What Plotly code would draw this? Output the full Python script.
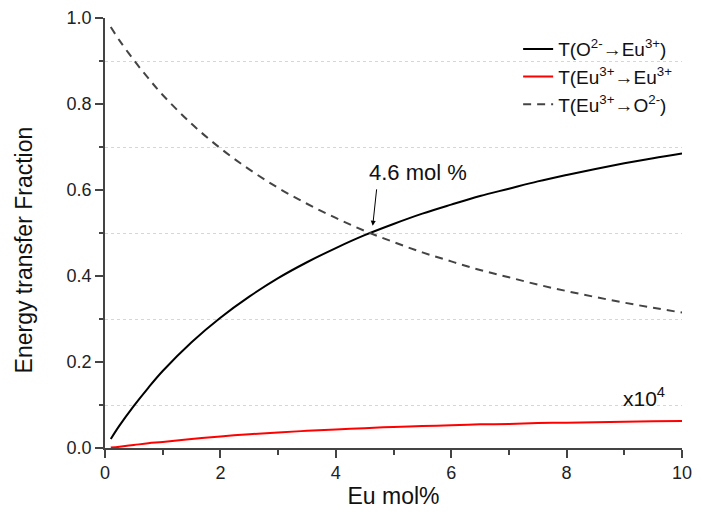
import plotly.graph_objects as go

eu_mol = [0.1, 0.25, 0.5, 0.75, 1, 1.5, 2, 2.5, 3, 3.5, 4, 4.5, 5, 5.5, 6, 6.5, 7, 7.5, 8, 8.5, 9, 9.5, 10]
t_o_eu = [0.021, 0.052, 0.098, 0.140, 0.179, 0.246, 0.303, 0.352, 0.395, 0.432, 0.465, 0.495, 0.521,
          0.545, 0.566, 0.586, 0.603, 0.620, 0.635, 0.649, 0.662, 0.674, 0.685]
t_eu_eu = [0.001, 0.003, 0.007, 0.011, 0.014, 0.021, 0.027, 0.032, 0.036, 0.040, 0.043, 0.046, 0.049,
           0.051, 0.053, 0.055, 0.056, 0.058, 0.059, 0.060, 0.061, 0.062, 0.063]
t_eu_o = [0.979, 0.948, 0.902, 0.860, 0.821, 0.754, 0.697, 0.648, 0.605, 0.568, 0.535, 0.505, 0.479,
          0.455, 0.434, 0.414, 0.397, 0.380, 0.365, 0.351, 0.338, 0.326, 0.315]

names = ["T(O<sup>2-</sup>→Eu<sup>3+</sup>)", "T(Eu<sup>3+</sup>→Eu<sup>3+</sup>", "T(Eu<sup>3+</sup>→O<sup>2-</sup>)"]

FONT = "Liberation Sans, Arial, sans-serif"

fig = go.Figure()
fig.add_trace(go.Scatter(x=eu_mol, y=t_o_eu, mode="lines", name=names[0],
                         line=dict(color="#000000", width=2, shape="spline")))
fig.add_trace(go.Scatter(x=eu_mol, y=t_eu_eu, mode="lines", name=names[1],
                         line=dict(color="#ff0000", width=2, shape="spline")))
fig.add_trace(go.Scatter(x=eu_mol, y=t_eu_o, mode="lines", name=names[2],
                         line=dict(color="#444444", width=2, dash="8px,6px", shape="spline")))

fig.add_annotation(x=4.64, y=0.517, ax=4.71, ay=0.605, axref="x", ayref="y", xref="x", yref="y",
                   text="", showarrow=True, arrowhead=2, arrowsize=1, arrowwidth=1, arrowcolor="#000000")
fig.add_annotation(x=5.43, y=0.64, xref="x", yref="y", text="4.6 mol %", showarrow=False,
                   font=dict(size=22, color="#111111", family=FONT))
fig.add_annotation(x=9.34, y=0.118, xref="x", yref="y", text="x10<sup>4</sup>", showarrow=False,
                   font=dict(size=21, color="#111111", family=FONT))
fig.add_annotation(x=-0.140, y=0.46, xref="paper", yref="paper", text="Energy transfer Fraction",
                   textangle=-90, showarrow=False, xanchor="center", yanchor="middle",
                   font=dict(size=23, color="#111111", family=FONT))

fig.update_layout(
    width=685, height=501,
    margin=dict(l=97, r=11, t=10, b=61),
    paper_bgcolor="white", plot_bgcolor="white",
    font=dict(family=FONT, size=18, color="#222222"),
    legend=dict(x=0.716, y=0.972, xanchor="left", yanchor="top", bgcolor="rgba(0,0,0,0)",
                font=dict(size=19, color="#111111", family=FONT), tracegroupgap=5),
    xaxis=dict(range=[0, 10], tickvals=[0, 2, 4, 6, 8, 10], ticks="outside", ticklen=8, tickwidth=1.5,
               tickcolor="#444444", showline=True, linecolor="#444444", linewidth=1.5,
               showgrid=False, zeroline=False, automargin=False,
               minor=dict(tickvals=[1, 3, 5, 7, 9], ticks="outside", ticklen=5, tickwidth=1.5,
                          tickcolor="#444444", showgrid=False),
               title=dict(text="Eu mol%", font=dict(size=23, family=FONT, color="#111111"), standoff=9),
               tickfont=dict(size=18)),
    yaxis=dict(range=[0, 1], tickvals=[0, 0.2, 0.4, 0.6, 0.8, 1.0], tickformat=".1f",
               ticks="outside", ticklen=8, tickwidth=1.5, tickcolor="#444444",
               showline=True, linecolor="#444444", linewidth=1.5, showgrid=False, zeroline=False,
               automargin=False,
               minor=dict(tickvals=[0.1, 0.3, 0.5, 0.7, 0.9], ticks="outside", ticklen=4, tickwidth=1.5,
                          tickcolor="#444444", showgrid=True, gridcolor="#d6d6d6", griddash="dot",
                          gridwidth=1),
               tickfont=dict(size=18)),
)

fig.write_html("out.html")
